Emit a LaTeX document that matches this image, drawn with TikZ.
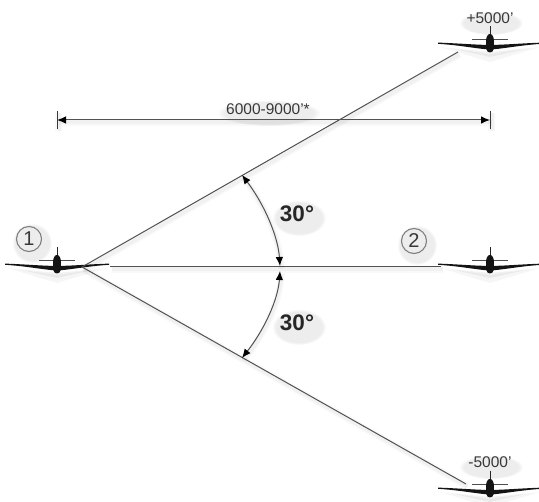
\documentclass[tikz,border=0pt]{standalone}
\usepackage{fontspec}
\setmainfont{Liberation Sans}
\usetikzlibrary{arrows.meta,fadings}
\definecolor{ink}{gray}{0.22}
\definecolor{linegray}{gray}{0.32}
\tikzset{
  x=1pt,y=-1pt,
  softline/.style={
    preaction={draw=black,draw opacity=.025,line width=7pt,-,transform canvas={shift={(1.5pt,-2.5pt)}}},
    preaction={draw=black,draw opacity=.03,line width=4pt,-,transform canvas={shift={(1.5pt,-2.5pt)}}},
    draw=linegray,line width=1pt},
  tip/.style={{Latex[length=9pt,width=7.5pt,black]}-{Latex[length=9pt,width=7.5pt,black]}},
  tick/.style={softline,draw=ink,line width=0.7pt},
  small/.style={font=\fontsize{15.5}{18}\selectfont,text=ink,inner sep=0pt},
  angle/.style={font=\bfseries\fontsize{22.5}{24}\selectfont,text=black!85,inner sep=0pt},
  num/.style={circle,draw=gray,line width=1.1pt,minimum size=25pt,inner sep=0pt,font=\fontsize{20}{22}\selectfont,text=ink},
  blob/.style={fill=black,fill opacity=.07,path fading=circle with fuzzy edge 15 percent},
  plane/.pic={
    % soft shadow
    \fill[black,fill opacity=.035] (-50,1) -- (0,8) -- (50,1) -- (0,16) -- cycle;
    \fill[black,fill opacity=.05] (-40,2) -- (0,6) -- (40,2) -- (0,11) -- cycle;
    % tailplane
    \draw[black!70,line width=0.8pt] (-18,-7) -- (18,-7);
    % fin
    \draw[black!85,line width=1pt] (0,-20) -- (0,-10);
    % wings
    \fill[black!92] (-52,-3.4) .. controls (-30,-2.6) and (-15,-1.2) .. (0,-1)
      .. controls (15,-1.2) and (30,-2.6) .. (52,-3.4) -- (52,-2.2)
      .. controls (30,-0.8) and (15,2.5) .. (0,3.6)
      .. controls (-15,2.5) and (-30,-0.8) .. (-52,-2.2) -- cycle;
    % fuselage
    \fill[black!92] (0,-12) .. controls (2.5,-12) and (4,-9) .. (4,-4)
      .. controls (4,2) and (4,6.5) .. (0,6.5)
      .. controls (-4,6.5) and (-4,2) .. (-4,-4)
      .. controls (-4,-9) and (-2.5,-12) .. (0,-12) -- cycle;
  }
}
\begin{document}
\begin{tikzpicture}
\useasboundingbox (0,0) rectangle (539,502);
% named positions
\coordinate (leader) at (57,267);
\coordinate (topwing) at (490,46);
\coordinate (midwing) at (490,267);
\coordinate (lowwing) at (490,491);
\coordinate (apex) at (82,267);
\coordinate (topend) at (458,52);
\coordinate (lowend) at (466,484);
\coordinate (midstart) at (110,267);
\coordinate (midend) at (441,267);
\coordinate (dimL) at (57,120);
\coordinate (dimR) at (490,120);
\coordinate (dimLa) at (57,111);
\coordinate (dimLb) at (57,129);
\coordinate (dimRa) at (490,111);
\coordinate (dimRb) at (490,129);
\coordinate (arcA) at (242,175);
\coordinate (arcC) at (242,358);
\coordinate (arcBup) at (280,266);
\coordinate (arcBdn) at (280,271);
% text shadows
\fill[blob] (269,113) ellipse (52 and 13);
\fill[blob] (299,218) ellipse (27 and 18);
\fill[blob] (299,327) ellipse (27 and 18);
\fill[blob] (491,23) ellipse (32 and 12);
\fill[blob] (491,467) ellipse (32 and 12);
\fill[blob] (32,243) circle (20);
\fill[blob] (417,245) circle (20);
% planes
\pic at (leader) {plane};
\pic at (topwing) {plane};
\pic at (midwing) {plane};
\pic at (lowwing) {plane};
% connectors
\draw[softline] (apex) -- (topend);
\draw[softline] (apex) -- (lowend);
\draw[softline] (midstart) -- (midend);
\draw[softline,tip] (dimL) -- (dimR);
\draw[tick] (dimLa) -- (dimLb);
\draw[tick] (dimRa) -- (dimRb);
\draw[softline,tip] (arcA) .. controls (264,204) and (278,236) .. (arcBup);
\draw[softline,tip] (arcBdn) .. controls (278,300) and (264,330) .. (arcC);
% labels
\node[small] (dist) at (268,109) {6000-9000'*};
\node[small] (up) at (490,18) {+5000'};
\node[small] (down) at (490,462) {-5000'};
\node[angle] (a1) at (297,214) {30°};
\node[angle] (a2) at (297,323) {30°};
\node[num] (n1) at (29,239) {1};
\node[num] (n2) at (414,241) {2};
\end{tikzpicture}
\end{document}
